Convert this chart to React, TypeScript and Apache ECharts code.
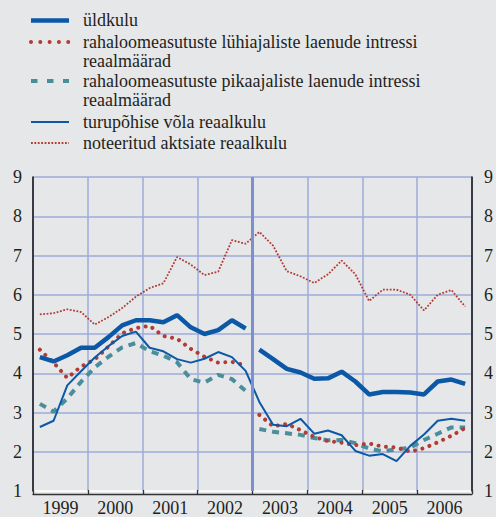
import React, { useEffect, useRef } from "react";
import * as echarts from "echarts";

// ---- data (quarterly, 1999 Q1 .. 2006 Q4) ----
const years = ["1999", "2000", "2001", "2002", "2003", "2004", "2005", "2006"];
const yTicks = [1, 9];
const BREAK_Q = 16; // methodological break at start of 2003

const uldkulu = [
  4.41, 4.30, 4.46, 4.65, 4.65, 4.92, 5.22, 5.35,
  5.35, 5.30, 5.48, 5.17, 5.00, 5.10, 5.35, 5.14,
  4.60, 4.36, 4.11, 4.02, 3.86, 3.87, 4.04, 3.79,
  3.46, 3.52, 3.52, 3.51, 3.46, 3.79, 3.84, 3.73,
];
const luhiajaliste = [
  4.60, 4.27, 3.88, 4.17, 4.35, 4.68, 5.02, 5.15,
  5.21, 4.95, 4.88, 4.62, 4.42, 4.27, 4.29, 4.20,
  2.94, 2.65, 2.71, 2.55, 2.38, 2.27, 2.23, 2.17,
  2.21, 2.13, 2.11, 2.00, 2.09, 2.24, 2.41, 2.60,
];
const pikaajaliste = [
  3.22, 3.02, 3.36, 3.78, 4.15, 4.42, 4.66, 4.77,
  4.56, 4.45, 4.28, 3.85, 3.76, 3.96, 3.85, 3.55,
  2.58, 2.51, 2.47, 2.43, 2.35, 2.29, 2.30, 2.22,
  2.08, 2.01, 2.06, 2.10, 2.30, 2.46, 2.62, 2.62,
];
const turupohise = [
  2.63, 2.79, 3.69, 4.05, 4.40, 4.69, 4.95, 5.06,
  4.65, 4.56, 4.36, 4.27, 4.37, 4.54, 4.41, 4.06,
  3.27, 2.69, 2.65, 2.84, 2.46, 2.54, 2.42, 2.02,
  1.90, 1.94, 1.76, 2.15, 2.44, 2.79, 2.84, 2.79,
];
const noteeritud = [
  5.50, 5.53, 5.63, 5.56, 5.24, 5.43, 5.66, 5.95,
  6.17, 6.29, 6.96, 6.77, 6.50, 6.59, 7.39, 7.30,
  7.60, 7.25, 6.60, 6.47, 6.30, 6.52, 6.87, 6.52,
  5.84, 6.13, 6.13, 6.00, 5.60, 6.00, 6.12, 5.70,
];

const names = [
  "üldkulu",
  "rahaloomeasutuste lühiajaliste laenude intressi\nreaalmäärad",
  "rahaloomeasutuste pikaajaliste laenude intressi\nreaalmäärad",
  "turupõhise võla reaalkulu",
  "noteeritud aktsiate reaalkulu",
];

const BLUE = "#0b58a6";
const RED = "#b23b36";
const TEAL = "#4a8e9c";
const GRID = "#9dabd9";
const FONT = '"Liberation Serif", "Times New Roman", serif';

function toData(vals: number[], withBreak: boolean) {
  const out: any[] = [];
  vals.forEach((v, i) => {
    if (withBreak && i === BREAK_Q) out.push([BREAK_Q, null]);
    out.push([i + 0.5, v]);
  });
  return out;
}

export default function App() {
  const ref = useRef<HTMLDivElement>(null);
  useEffect(() => {
    if (!ref.current) return;
    const chart = echarts.init(ref.current, null, { renderer: "svg" });

    const legendStyles = [
      { y: 20.5, lw: 4.5, color: BLUE, dash: null as any, cap: "butt" },
      { y: 42, lw: 4, color: RED, dash: [0.01, 9.3], cap: "round" },
      { y: 81, lw: 4, color: TEAL, dash: [6.5, 9.5], cap: "butt" },
      { y: 122, lw: 2, color: BLUE, dash: null as any, cap: "butt" },
      { y: 143, lw: 1.8, color: RED, dash: [1.8, 1.6], cap: "butt" },
    ];
    const legendEls: any[] = [];
    legendStyles.forEach((s, i) => {
      legendEls.push({
        type: "line",
        shape: { x1: 31, y1: s.y, x2: 69, y2: s.y },
        style: {
          stroke: s.color,
          lineWidth: s.lw,
          lineDash: s.dash,
          lineCap: s.cap,
        },
      });
      legendEls.push({
        type: "text",
        x: 83,
        y: s.y - 10,
        style: {
          text: names[i],
          fontSize: 18,
          fontFamily: FONT,
          fill: "#231f20",
          lineHeight: 19,
          verticalAlign: "top",
        },
      });
    });

    const yLabel = {
      fontSize: 18,
      fontFamily: FONT,
      color: "#231f20",
    };
    const gridColors = Array.from({ length: yTicks[1] - yTicks[0] + 1 }, (_, i) =>
      i === 0 ? "#ffffff" : GRID
    );

    const option: any = {
      animation: false,
      backgroundColor: "#e6e7e9",
      grid: { left: 33, right: 21, top: 177, bottom: 19.5 },
      xAxis: [
        {
          type: "value",
          min: 0,
          max: years.length * 4,
          interval: 4,
          axisLine: { show: false },
          axisTick: { show: false },
          axisLabel: { show: false },
          splitLine: { show: true, lineStyle: { color: GRID, width: 1.5 } },
        },
        {
          type: "category",
          data: years,
          position: "bottom",
          offset: 3,
          boundaryGap: true,
          axisLine: { show: true, lineStyle: { color: "#333", width: 1.3 } },
          axisTick: { show: true, inside: true, length: 4, lineStyle: { color: "#333", width: 1.3 } },
          axisLabel: { ...yLabel, margin: 5 },
          splitLine: { show: false },
        },
      ],
      yAxis: [
        {
          type: "value",
          min: yTicks[0],
          max: yTicks[1],
          interval: 1,
          position: "left",
          axisLine: { show: true, lineStyle: { color: "#111", width: 1.5 } },
          axisTick: { show: false },
          axisLabel: { ...yLabel, margin: 11 },
          splitLine: { show: true, lineStyle: { color: gridColors, width: 1.5 } },
        },
        {
          type: "value",
          min: yTicks[0],
          max: yTicks[1],
          interval: 1,
          position: "right",
          axisLine: { show: true, lineStyle: { color: "#111", width: 1.5 } },
          axisTick: { show: false },
          axisLabel: { ...yLabel, margin: 12 },
          splitLine: { show: false },
        },
      ],
      series: [
        {
          name: names[4],
          type: "line",
          data: toData(noteeritud, false),
          symbol: "none",
          lineStyle: { color: RED, width: 1.8, type: [1.8, 1.6] },
          markLine: {
            silent: true,
            symbol: ["none", "none"],
            label: { show: false },
            lineStyle: { color: "#7b90d0", width: 3, type: "solid" },
            data: [{ xAxis: BREAK_Q }],
          },
        },
        {
          name: names[2],
          type: "line",
          data: toData(pikaajaliste, true),
          symbol: "none",
          lineStyle: { color: TEAL, width: 4, type: [7, 6] },
        },
        {
          name: names[1],
          type: "line",
          data: toData(luhiajaliste, true),
          symbol: "none",
          lineStyle: { color: RED, width: 4, type: [0.01, 7.5], cap: "round" },
        },
        {
          name: names[3],
          type: "line",
          data: toData(turupohise, false),
          symbol: "none",
          lineStyle: { color: BLUE, width: 2 },
        },
        {
          name: names[0],
          type: "line",
          data: toData(uldkulu, true),
          symbol: "none",
          lineStyle: { color: BLUE, width: 4.5 },
        },
      ],
      graphic: legendEls,
    };
    chart.setOption(option);
    return () => chart.dispose();
  }, []);

  return (
    <div
      ref={ref}
      style={{ position: "fixed", left: 0, top: 0, width: 496, height: 517 }}
    />
  );
}
